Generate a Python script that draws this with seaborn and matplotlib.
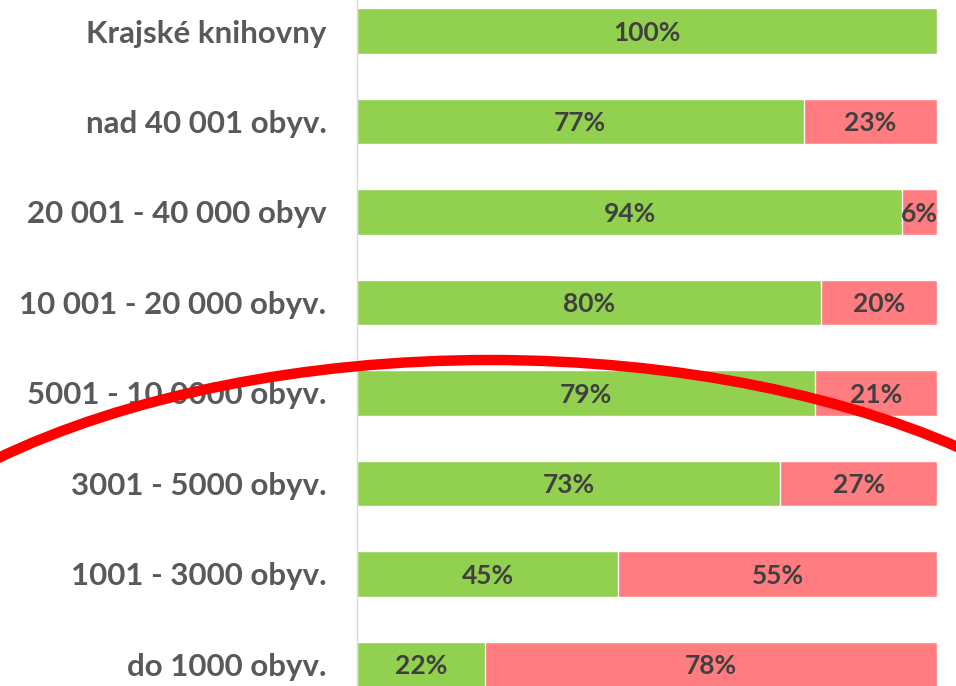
import numpy as np
import pandas as pd
import matplotlib
matplotlib.use("Agg")
import matplotlib.pyplot as plt
from matplotlib.patches import Ellipse
import seaborn as sns

# data
kategorie = ["Krajské knihovny", "nad 40 001 obyv.", "20 001 - 40 000 obyv",
             "10 001 - 20 000 obyv.", "5001 - 10 0000 obyv.", "3001 - 5000 obyv.",
             "1001 - 3000 obyv.", "do 1000 obyv."]
ano = [100, 77, 94, 80, 79, 73, 45, 22]
ne = [0, 23, 6, 20, 21, 27, 55, 78]

df = pd.DataFrame({"kategorie": kategorie, "ano": ano, "ne": ne})
df["celkem"] = df["ano"] + df["ne"]

sns.set_theme(style="white")
plt.rcParams["font.family"] = ["Lato", "DejaVu Sans"]

zelena = "#92D050"
cervena = "#FF7C80"
text_barva = "#595959"

fig = plt.figure(figsize=(9.56, 6.86), dpi=100)
ax = fig.add_axes([357 / 956, 0, 580 / 956, 1])

# cervena cast (celkem) pod zelenou
sns.barplot(data=df, y="kategorie", x="celkem", orient="h", color=cervena,
            width=0.5, saturation=1, ax=ax, order=kategorie)
sns.barplot(data=df, y="kategorie", x="ano", orient="h", color=zelena,
            width=0.5, saturation=1, ax=ax, order=kategorie)

# popisky v prouzcich
for i, (a, n) in enumerate(zip(ano, ne)):
    ax.text(a / 2, i + 0.02, f"{a}%", ha="center", va="center", fontsize=19,
            fontweight="bold", color="#404040")
    if n > 0:
        ax.text(a + n / 2, i + 0.02, f"{n}%", ha="center", va="center", fontsize=19,
                fontweight="bold", color="#404040")

ax.set_xlim(0, 100)
ax.set_ylim((686 - 31) / 90.5, -31 / 90.5)
ax.set_xlabel("")
ax.set_ylabel("")
ax.set_xticks([])
ax.tick_params(axis="y", length=0, pad=22)
for lab in ax.get_yticklabels():
    lab.set_fontsize(22.5)
    lab.set_fontweight("bold")
    lab.set_color(text_barva)

sns.despine(ax=ax, top=True, right=True, bottom=True, left=False)
ax.spines["left"].set_color("#D9D9D9")
ax.spines["left"].set_linewidth(1)

# cerveny oblouk pres graf
oblouk = Ellipse((490 / 956, -14 / 686), 1400 / 956, 680 / 686,
                 transform=fig.transFigure, fill=False, edgecolor="#FF0000",
                 linewidth=7.5, zorder=10)
fig.patches.append(oblouk)

fig.savefig("out.png", dpi=100)
